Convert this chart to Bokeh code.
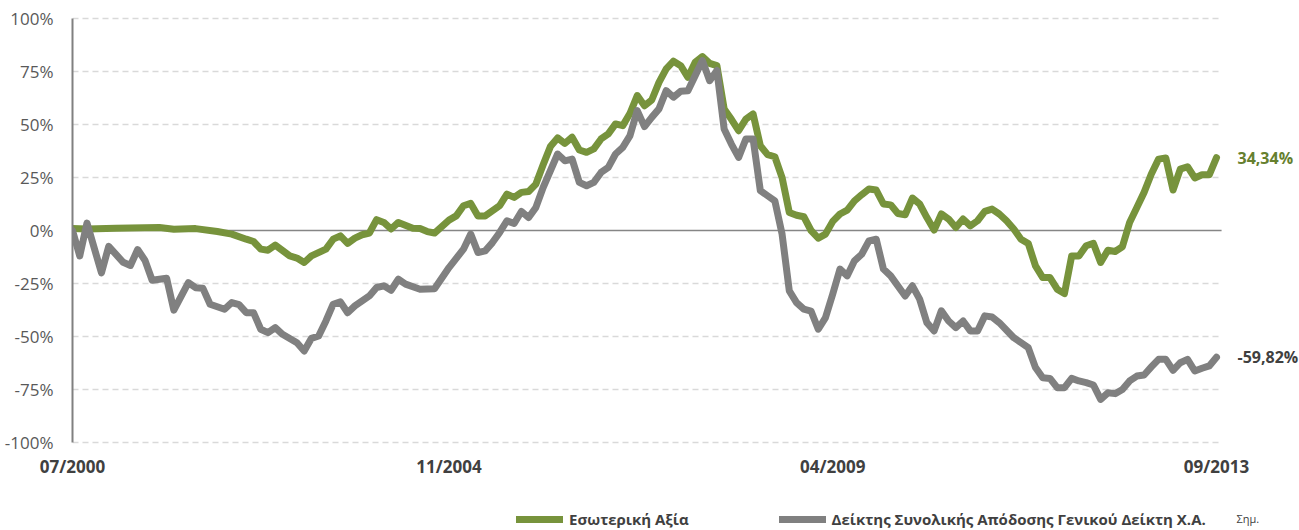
from bokeh.plotting import figure
from bokeh.layouts import column
from bokeh.models import (FixedTicker, PrintfTickFormatter, Legend, LegendItem, Label, Range1d)
from bokeh.embed import file_html
from bokeh.resources import INLINE

# months counted from 07/2000
iv_month = [0, 2, 6, 12, 14, 17, 20, 22, 24, 25, 26, 27, 28, 30, 31, 32, 33, 35, 36, 37, 38, 39, 40, 41,
            42, 43, 44, 45, 47, 48, 49, 50, 52, 53, 54, 55, 56, 57, 59, 60, 61, 62, 63, 64, 65, 66, 67,
            68, 69, 70, 71, 72, 73, 74, 75, 76, 77, 78, 79, 80, 81, 82, 83, 84, 85, 86, 87, 88, 89, 90,
            91, 92, 93, 94, 95, 96, 97, 98, 99, 100, 101, 102, 103, 104, 105, 106, 107, 108, 109, 110,
            111, 112, 113, 114, 115, 116, 117, 118, 119, 120, 121, 122, 123, 124, 125, 126, 127, 128,
            129, 130, 131, 132, 133, 134, 135, 136, 137, 138, 139, 140, 141, 142, 143, 144, 145, 146,
            147, 148, 149, 150, 151, 152, 153, 154, 155, 156, 157, 158]
iv_value = [0.9, 0.7, 1.1, 1.4, 0.6, 0.9, -0.5, -1.7, -4.1, -5.2, -8.8, -9.3, -6.9, -12, -13, -15.1,
            -12, -8.8, -4.1, -2.5, -6.1, -3.6, -2, -1.2, 5.1, 3.8, 0.7, 3.8, 1.1, 0.9, -0.5, -1.2, 4.9,
            6.9, 11.7, 12.8, 6.9, 6.9, 11.7, 17.2, 15.6, 18, 18.4, 21.9, 31, 39.6, 43.7, 41.1, 44, 38,
            36.9, 38.5, 43.2, 45.6, 50.3, 49.5, 55.3, 63.7, 58.9, 61.6, 69.9, 76.3, 79.9, 77.8, 72.3,
            79.4, 82.1, 78.9, 77.8, 57.4, 52.5, 47.1, 52.6, 55, 40, 35.8, 34.8, 25, 8.5, 7.2, 6.5, 0,
            -3.6, -1.7, 4.3, 7.8, 9.6, 14, 16.9, 19.6, 19.1, 12.5, 12.1, 8, 7.4, 15.3, 12.5, 6.1, 0.2,
            7.8, 5.4, 1.4, 5.4, 2.2, 4.6, 9, 10.1, 7.8, 4.6, 0.7, -4.1, -6.1, -16.7, -22.2, -22.2,
            -27.7, -29.8, -12, -12, -7.2, -6.1, -15.1, -9.3, -9.9, -7.7, 3.8, 10.9, 18, 26.7, 33.7,
            34.2, 19.1, 29, 30.1, 24.8, 26.3, 26.3, 34.34]

gi_month = [0, 1, 2, 4, 5, 7, 8, 9, 10, 11, 13, 14, 16, 17, 18, 19, 21, 22, 23, 24, 25, 26, 27, 28,
            29, 31, 32, 33, 34, 35, 36, 37, 38, 39, 40, 41, 42, 43, 44, 45, 46, 48, 50, 52, 54, 55, 56,
            57, 58, 59, 60, 61, 62, 63, 64, 65, 67, 68, 69, 70, 71, 72, 73, 74, 75, 76, 77, 78, 79, 80,
            81, 82, 83, 84, 85, 86, 87, 88, 89, 90, 91, 92, 93, 94, 95, 96, 97, 98, 99, 100, 101, 102,
            103, 104, 105, 106, 107, 108, 109, 110, 111, 112, 113, 115, 116, 117, 118, 119, 120, 121,
            122, 123, 124, 125, 126, 127, 128, 130, 131, 132, 133, 134, 135, 136, 137, 138, 139, 140,
            141, 142, 143, 144, 145, 146, 147, 148, 149, 150, 151, 152, 153, 154, 155, 156, 157, 158]
gi_value = [0, -12, 3.5, -20, -7.5, -15, -16.5, -9, -14, -23.5, -22.5, -37.6, -24.6, -27, -27.2,
            -34.8, -37.2, -34, -35, -38.8, -38.8, -46.6, -48.2, -45.8, -49, -53, -56.9, -50.9, -49.8,
            -42.7, -34.8, -33.7, -38.8, -35.6, -33.2, -30.9, -26.9, -26.1, -28.2, -23, -25.3, -27.7,
            -27.5, -17.5, -8.8, -1.7, -10.4, -9.6, -5.7, -0.9, 4.6, 3.3, 9, 6.1, 10.9, 20.3, 36.1,
            32.9, 33.7, 22.7, 21.1, 22.7, 27.4, 29.8, 36.1, 39.2, 44.8, 56.6, 49, 53.4, 57.4, 66, 62.9,
            65.7, 66, 73.1, 80.2, 70.7, 75.5, 47.9, 40.8, 34.5, 43.2, 43.2, 18.8, 16.4, 14, -1.7,
            -28.5, -34, -37.1, -38, -46.6, -41.1, -30, -18.2, -21.4, -14.3, -11.2, -4.9, -4.1, -18.2,
            -21.4, -30.9, -26.1, -32.4, -43.5, -47.4, -37.9, -42.7, -45.8, -42.7, -47.4, -47.4, -40.3,
            -40.8, -43.5, -50.6, -52.9, -55.3, -64.7, -69.5, -69.8, -74.2, -74.2, -69.8, -71, -71.8,
            -72.9, -79.7, -76.6, -77, -75, -71, -68.7, -68.2, -64.4, -60.8, -60.8, -66, -62.4, -60.8,
            -66.3, -65, -63.9, -59.82]

tick_months = [0, 52, 105, 158]
tick_labels = ["07/2000", "11/2004", "04/2009", "09/2013"]
y_ticks = [-100, -75, -50, -25, 0, 25, 50, 75, 100]
series_names = ["Εσωτερική Αξία", "Δείκτης Συνολικής Απόδοσης Γενικού Δείκτη Χ.Α."]
end_labels = ["34,34%", "-59,82%"]
note_text = "Σημ."

GREEN = "#77933C"
GREEN_TXT = "#66802F"
GREY = "#808080"
TXT = "#404040"
FONT = "Open Sans"

W, H1, H2 = 1299, 508, 22
LEFT, TOP, BOTTOM = 72, 16, 444
PX_PER_MONTH = 7.2405
GRID_END = 158.7           # gridlines stop here (months)
x_end = (W - LEFT) / PX_PER_MONTH

p = figure(width=W, height=H1, x_range=Range1d(0, x_end), y_range=Range1d(-101, 101),
           output_backend="svg", toolbar_location=None,
           min_border_left=LEFT, min_border_right=0, min_border_top=TOP, min_border_bottom=H1 - BOTTOM)
p.outline_line_color = None
p.background_fill_color = "white"
p.border_fill_color = "white"
p.xgrid.visible = False
p.ygrid.visible = False

p.yaxis.ticker = FixedTicker(ticks=y_ticks)
p.yaxis.bounds = (min(y_ticks), max(y_ticks))
p.yaxis.formatter = PrintfTickFormatter(format="%d%%")
p.yaxis.axis_line_color = GREY
p.yaxis.axis_line_width = 2
p.yaxis.major_tick_line_color = None
p.yaxis.minor_tick_line_color = None
p.yaxis.major_tick_out = 0
p.yaxis.major_label_standoff = 19
p.yaxis.major_label_text_font = FONT
p.yaxis.major_label_text_font_size = "17px"
p.yaxis.major_label_text_color = "#595959"

p.xaxis.ticker = FixedTicker(ticks=tick_months)
p.xaxis.major_label_overrides = {m: t for m, t in zip(tick_months, tick_labels)}
p.xaxis.axis_line_color = None
p.xaxis.major_tick_line_color = None
p.xaxis.minor_tick_line_color = None
p.xaxis.major_tick_out = 0
p.xaxis.major_label_standoff = 10
p.xaxis.major_label_text_font = FONT
p.xaxis.major_label_text_font_style = "bold"
p.xaxis.major_label_text_font_size = "17px"
p.xaxis.major_label_text_color = TXT

# dashed grid lines and solid zero line, ending at the last month
grid_y = [t for t in y_ticks if t != 0]
p.segment(x0=[iv_month[0]] * len(grid_y), y0=grid_y, x1=[GRID_END] * len(grid_y), y1=grid_y,
          line_color="#D9D9D9", line_dash="6 4", line_width=1.5)
p.segment(x0=[iv_month[0]], y0=[0], x1=[GRID_END], y1=[0], line_color="#868686", line_width=1.5)

r1 = p.line(iv_month, iv_value, line_color=GREEN, line_width=7, line_join="round", line_cap="round")
r2 = p.line(gi_month, gi_value, line_color=GREY, line_width=7, line_join="round", line_cap="round")

for xm, yv, txt, col in [(iv_month[-1], iv_value[-1], end_labels[0], GREEN_TXT),
                         (gi_month[-1], gi_value[-1], end_labels[1], TXT)]:
    p.add_layout(Label(x=xm, y=yv, x_offset=21, text=txt, text_color=col, text_baseline="middle",
                       text_font=FONT, text_font_style="bold", text_font_size="16px"))

# legend strip below the chart (its frame is aligned with the chart's frame)
q = figure(width=W, height=H2, x_axis_type=None, y_axis_type=None, output_backend="svg",
           toolbar_location=None, min_border=0, x_range=Range1d(0, 1), y_range=Range1d(0, 1))
q.outline_line_color = None
q.xgrid.visible = False
q.ygrid.visible = False
k1 = q.line(iv_month, iv_value, line_color=GREEN, line_width=7, line_cap="round", visible=False)
k2 = q.line(gi_month, gi_value, line_color=GREY, line_width=7, line_cap="round", visible=False)
legend = Legend(items=[LegendItem(label=series_names[0], renderers=[k1]),
                       LegendItem(label=series_names[1], renderers=[k2])],
                orientation="horizontal", location="left", margin=444, glyph_width=47,
                glyph_height=14, label_standoff=6, spacing=90, padding=0, border_line_color=None,
                background_fill_alpha=0, inactive_fill_alpha=0, label_text_font=FONT,
                label_text_font_style="bold", label_text_font_size="15px", label_text_color=TXT)
q.add_layout(legend)
q.add_layout(Label(x=1164, y=12, x_units="screen", y_units="screen", text=note_text,
                   text_baseline="middle", text_font=FONT, text_font_size="11px", text_color=TXT))

open("out.html", "w").write(file_html(column(p, q, spacing=0), INLINE))
